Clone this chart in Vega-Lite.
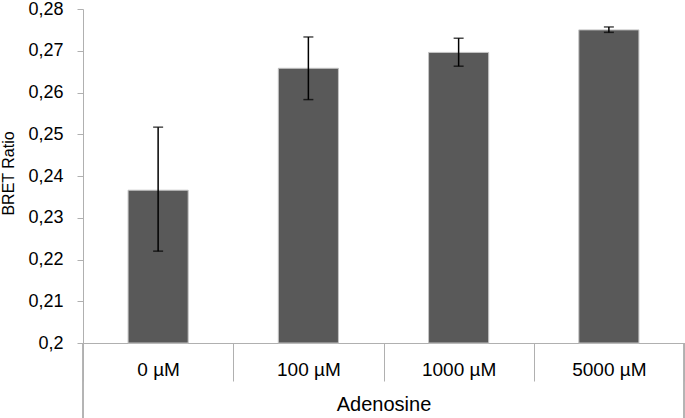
{
  "$schema": "https://vega.github.io/schema/vega-lite/v6.json",
  "width": 601,
  "height": 334,
  "autosize": {"type": "none"},
  "padding": {"left": 83, "top": 9, "right": 1, "bottom": 75},
  "background": "white",
  "config": {
    "view": {"stroke": null},
    "font": "Liberation Sans",
    "axis": {
      "domainColor": "#b0b0b0",
      "tickColor": "#b0b0b0",
      "labelColor": "#000000",
      "titleColor": "#000000",
      "grid": false,
      "titleFontWeight": "normal",
      "labelFont": "Liberation Sans",
      "titleFont": "Liberation Sans"
    }
  },
  "data": {
    "values": [
      {"dose": "0 µM", "ratio": 0.2366, "low": 0.2220, "high": 0.2517},
      {"dose": "100 µM", "ratio": 0.2658, "low": 0.2583, "high": 0.2733},
      {"dose": "1000 µM", "ratio": 0.2696, "low": 0.2663, "high": 0.2730},
      {"dose": "5000 µM", "ratio": 0.2750, "low": 0.2744, "high": 0.2757}
    ]
  },
  "layer": [
    {
      "mark": {"type": "bar", "color": "#595959", "stroke": "#c4c4c4", "strokeWidth": 1, "width": {"band": 0.4}},
      "encoding": {
        "x": {
          "field": "dose",
          "type": "nominal",
          "scale": {"domain": ["0 µM", "100 µM", "1000 µM", "5000 µM"], "paddingInner": 0, "paddingOuter": 0},
          "axis": {
            "title": "Adenosine",
            "labelAngle": 0,
            "labelAlign": "center",
            "bandPosition": 0.5,
            "domain": true,
            "ticks": true,
            "tickBand": "extent",
            "tickSize": 38,
            "tickColor": "#b0b0b0",
            "tickWidth": 1,
            "labelFontSize": 19,
            "labelBaseline": "alphabetic",
            "labelPadding": -6,
            "titleFontSize": 20,
            "titleBaseline": "alphabetic",
            "titleY": 67
          }
        },
        "y": {
          "field": "ratio",
          "type": "quantitative",
          "scale": {"domain": [0.2, 0.28], "nice": false, "zero": false},
          "axis": {
            "title": "BRET Ratio",
            "values": [0.2, 0.21, 0.22, 0.23, 0.24, 0.25, 0.26, 0.27, 0.28],
            "labelExpr": "replace(format(datum.value, '.2~f'), '.', ',')",
            "ticks": true,
            "tickSize": 6,
            "labelPadding": 14,
            "labelFontSize": 18,
            "titleFontSize": 16,
            "titleAngle": -90,
            "titleX": -75,
            "titleY": 164,
            "titleAlign": "center",
            "titleBaseline": "middle"
          }
        },
        "y2": {"datum": 0.2}
      }
    },
    {
      "mark": {"type": "rule", "color": "black", "strokeWidth": 1.5},
      "encoding": {
        "x": {"field": "dose", "type": "nominal"},
        "y": {"field": "low", "type": "quantitative"},
        "y2": {"field": "high"}
      }
    },
    {
      "mark": {"type": "tick", "color": "black", "thickness": 1.5, "size": 10, "orient": "horizontal"},
      "encoding": {
        "x": {"field": "dose", "type": "nominal"},
        "y": {"field": "low", "type": "quantitative"}
      }
    },
    {
      "mark": {"type": "tick", "color": "black", "thickness": 1.5, "size": 10, "orient": "horizontal"},
      "encoding": {
        "x": {"field": "dose", "type": "nominal"},
        "y": {"field": "high", "type": "quantitative"}
      }
    },
    {
      "mark": {"type": "rule", "color": "#b0b0b0", "strokeWidth": 1},
      "encoding": {
        "x": {"datum": "0 µM", "type": "nominal", "bandPosition": 0},
        "y": {"datum": 0.2, "type": "quantitative"},
        "y2": {"datum": 0.18}
      }
    },
    {
      "mark": {"type": "rule", "color": "#b0b0b0", "strokeWidth": 1},
      "encoding": {
        "x": {"datum": "5000 µM", "type": "nominal", "bandPosition": 1},
        "y": {"datum": 0.2, "type": "quantitative"},
        "y2": {"datum": 0.18}
      }
    }
  ]
}
